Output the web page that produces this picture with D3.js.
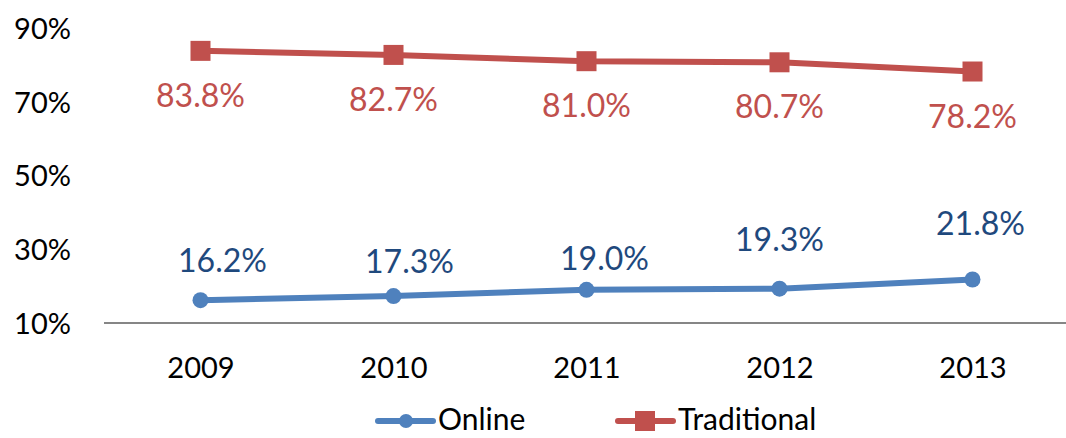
<!DOCTYPE html>
<html>
<head>
<meta charset="utf-8">
<script src="https://cdn.jsdelivr.net/npm/d3@7"></script>
<style>
  body { margin: 0; background: #fff; }
  svg { display: block; font-family: Lato, "Open Sans", sans-serif; }
</style>
</head>
<body>
<svg class="chart" width="1066" height="438"></svg>
<script>
// Chart data
var years = ["2009", "2010", "2011", "2012", "2013"];
var online = [16.2, 17.3, 19.0, 19.3, 21.8];
var traditional = [83.8, 82.7, 81.0, 80.7, 78.2];
var yTicks = [10, 30, 50, 70, 90];
var seriesNames = ["Online", "Traditional"];

const width = 1066;
const height = 438;

// hand placed label nudges for the online series (dx, dy from the point)
var onlineLabelShift = [[22, -28], [16, -23], [18, -20], [0, -38], [8, -44]];

var blue = "#4F81BD", red = "#C0504D";

var svg = d3.select(".chart");

var x = d3.scalePoint()
    .domain(years)
    .range([104, 1069])
    .padding(0.5);

var y = d3.scaleLinear()
    .domain([10, 90])
    .range([323, 28]);

/**** Y axis labels, no line ****/
var yAxis = d3.axisLeft(y)
    .tickValues(yTicks)
    .tickFormat(function(d) { return d + "%"; })
    .tickSize(0)
    .tickPadding(0);

svg.append("g")
    .attr("class", "yAxis")
    .attr("transform", "translate(71,1)")
    .call(yAxis)
    .call(function(g) { g.select(".domain").remove(); })
    .selectAll("text")
    .attr("font-family", "Lato")
    .attr("font-size", 29)
    .attr("fill", "#000");

/**** X axis ****/
var xAxis = d3.axisBottom(x)
    .tickSize(0)
    .tickPadding(34);

var xg = svg.append("g")
    .attr("class", "xAxis")
    .attr("transform", "translate(0," + y(10) + ")")
    .call(xAxis);

xg.select(".domain")
    .attr("d", "M104,0H1066")
    .attr("stroke", "#868686")
    .attr("stroke-width", 2);

xg.selectAll("text")
    .attr("font-family", "Lato")
    .attr("font-size", 29)
    .attr("fill", "#000");

/**** Lines ****/
var line = d3.line()
    .x(function(d, i) { return x(years[i]); })
    .y(function(d) { return y(d); });

svg.append("path")
    .datum(traditional)
    .attr("d", line)
    .attr("fill", "none")
    .attr("stroke", red)
    .attr("stroke-width", 6);

svg.selectAll(".tradMark")
    .data(traditional)
    .enter()
    .append("rect")
    .attr("class", "tradMark")
    .attr("x", function(d, i) { return x(years[i]) - 10; })
    .attr("y", function(d) { return y(d) - 10; })
    .attr("width", 20)
    .attr("height", 20)
    .attr("fill", red);

svg.append("path")
    .datum(online)
    .attr("d", line)
    .attr("fill", "none")
    .attr("stroke", blue)
    .attr("stroke-width", 6);

svg.selectAll(".onMark")
    .data(online)
    .enter()
    .append("circle")
    .attr("class", "onMark")
    .attr("cx", function(d, i) { return x(years[i]); })
    .attr("cy", function(d) { return y(d); })
    .attr("r", 8)
    .attr("fill", blue);

/**** Data labels ****/
svg.selectAll(".tradLabel")
    .data(traditional)
    .enter()
    .append("text")
    .attr("class", "tradLabel")
    .attr("x", function(d, i) { return x(years[i]); })
    .attr("y", function(d) { return y(d) + 56; })
    .attr("text-anchor", "middle")
    .attr("font-size", 32)
    .attr("fill", red)
    .text(function(d) { return d.toFixed(1) + "%"; });

svg.selectAll(".onLabel")
    .data(online)
    .enter()
    .append("text")
    .attr("class", "onLabel")
    .attr("x", function(d, i) { return x(years[i]) + onlineLabelShift[i][0]; })
    .attr("y", function(d, i) { return y(d) + onlineLabelShift[i][1]; })
    .attr("text-anchor", "middle")
    .attr("font-size", 32)
    .attr("fill", "#1F497D")
    .text(function(d) { return d.toFixed(1) + "%"; });

/**** Legend ****/
var legendX = [378, 618];
var legend = svg.selectAll(".legend")
    .data(seriesNames)
    .enter()
    .append("g")
    .attr("class", "legend")
    .attr("transform", function(d, i) { return "translate(" + legendX[i] + ",421)"; });

legend.append("line")
    .attr("x1", 0)
    .attr("x2", 55)
    .attr("stroke", function(d, i) { return i ? red : blue; })
    .attr("stroke-width", 6)
    .attr("stroke-linecap", "round");

legend.filter(function(d, i) { return i === 0; })
    .append("circle")
    .attr("cx", 28)
    .attr("r", 7)
    .attr("fill", blue);

legend.filter(function(d, i) { return i === 1; })
    .append("rect")
    .attr("x", 17)
    .attr("y", -10)
    .attr("width", 20)
    .attr("height", 20)
    .attr("fill", red);

legend.append("text")
    .attr("x", 60)
    .attr("y", 9)
    .attr("font-size", 30)
    .attr("fill", "#000")
    .text(function(d) { return d; });
</script>
</body>
</html>
